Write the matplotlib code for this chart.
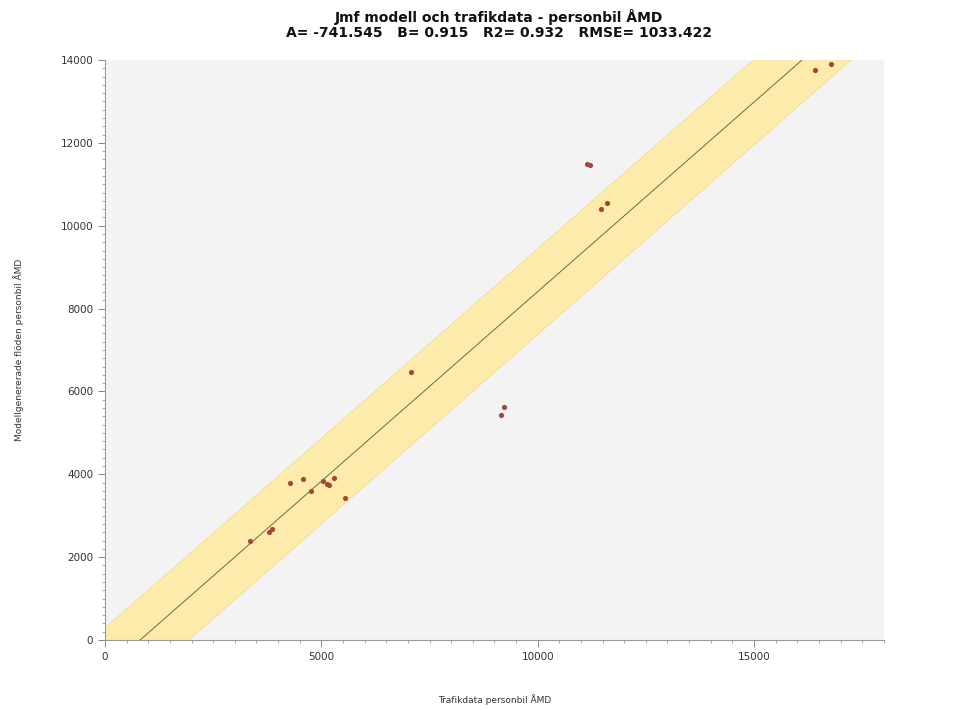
import matplotlib
matplotlib.use("Agg")
import matplotlib.pyplot as plt
import numpy as np
from matplotlib.ticker import MultipleLocator

# Data
trafik = [3356, 3793, 3870, 4268, 4582, 4766, 5034, 5134, 5172, 5287, 5556,
          7064, 9157, 9218, 11150, 11200, 11471, 11609, 16420, 16775]
modell = [2390, 2614, 2672, 3797, 3878, 3589, 3838, 3765, 3733, 3910, 3420,
          6461, 5431, 5617, 11490, 11460, 10411, 10540, 13760, 13900]

A = -741.545
B = 0.915
R2 = 0.932
RMSE = 1033.422

title_line1 = "Jmf modell och trafikdata - personbil ÅMD"
xlabel = "Trafikdata personbil ÅMD"
ylabel = "Modellgenererade flöden personbil ÅMD"

x_max = 18000
y_max = 14000

fig = plt.figure(figsize=(9.68, 7.09), dpi=100)
ax = fig.add_axes([0.1085, 0.0973, 0.8045, 0.8181])
ax.set_facecolor("#f3f3f3")

xs = np.array([0, x_max])
yline = A + B * xs
ax.fill_between(xs, yline - RMSE, yline + RMSE, color="#fcebaa", linewidth=0.6,
                edgecolor="#f3dc90", zorder=1)
ax.plot(xs, yline, color="#6b6b4a", linewidth=0.7, zorder=2)
ax.scatter(trafik, modell, s=14, color="#a3473d", zorder=3, linewidths=0)

ax.set_xlim(0, x_max)
ax.set_ylim(0, y_max)
ax.xaxis.set_major_locator(MultipleLocator(5000))
ax.xaxis.set_minor_locator(MultipleLocator(500))
ax.yaxis.set_major_locator(MultipleLocator(2000))
ax.yaxis.set_minor_locator(MultipleLocator(200))

for s in ["top", "right"]:
    ax.spines[s].set_visible(False)
for s in ["bottom", "left"]:
    ax.spines[s].set_color("#999999")
    ax.spines[s].set_linewidth(0.8)

ax.tick_params(axis="both", which="major", length=5, width=0.7, color="#888888",
               labelsize=7.5, labelcolor="#333333", direction="out")
ax.tick_params(axis="both", which="minor", length=2.5, width=0.6, color="#999999",
               direction="out")

ax.set_xlabel(xlabel, fontsize=6.5, color="#333333", labelpad=23)
ax.set_ylabel(ylabel, fontsize=6.5, color="#333333", labelpad=26)

title = (f"{title_line1}\n"
         f"A= {A:.3f}   B= {B:.3f}   R2= {R2:.3f}   RMSE= {RMSE:.3f}")
fig.text(0.516, 0.988, title, ha="center", va="top", fontsize=10,
         fontweight="bold", color="#111111", linespacing=1.1)

fig.savefig("out.png", dpi=100, facecolor="white")
